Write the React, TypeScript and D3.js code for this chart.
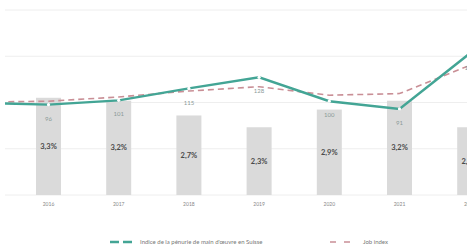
import { useEffect, useRef } from "react";
import * as d3 from "d3";

// years (2015 sits left of the visible area, only the lines reach into view)
const years = ["2015", "2016", "2017", "2018", "2019", "2020", "2021", "2022"];
const unemployment = [3.2, 3.3, 3.2, 2.7, 2.3, 2.9, 3.2, 2.3];
const shortageIndex = [98, 96, 101, 115, 128, 100, 91, 156];
const jobIndex = [99, 100, 105, 112, 117, 107, 109, 142];
const legendLabels = [
  "Indice de la pénurie de main d'œuvre en Suisse",
  "Job index",
];

const W = 467;
const H = 247;
const teal = "#43a595";
const rose = "#c98f96";

export default function App() {
  const ref = useRef(null);

  useEffect(() => {
    const svg = d3.select(ref.current);
    svg.selectAll("*").remove();

    const x = d3.scalePoint().domain(years).range([-56.8, 504.8]).padding(0.5);
    const barW = 25;
    const yPct = d3.scaleLinear().domain([0, 6.28]).range([195, 10]);
    const yIdx = d3.scaleLinear().domain([-10, 207]).range([195, 10]);

    // only years whose centre is on screen get labels
    const shown = years.map((d, i) => i).filter((i) => x(years[i]) > 5);

    svg
      .append("defs")
      .append("clipPath")
      .attr("id", "plot")
      .append("rect")
      .attr("x", 5)
      .attr("y", 0)
      .attr("width", W)
      .attr("height", H);

    const font = "Lato, 'Open Sans', sans-serif";

    // gridlines
    const max = yPct.domain()[1];
    svg
      .append("g")
      .selectAll("line")
      .data(d3.range(5).map((i) => (i * max) / 4))
      .join("line")
      .attr("x1", 5)
      .attr("x2", W)
      .attr("y1", (d) => yPct(d))
      .attr("y2", (d) => yPct(d))
      .attr("stroke", "#eeeeee")
      .attr("stroke-width", 1);

    const plot = svg.append("g").attr("clip-path", "url(#plot)");

    // bars
    plot
      .append("g")
      .selectAll("rect")
      .data(years)
      .join("rect")
      .attr("x", (d) => x(d) - barW / 2)
      .attr("y", (d, i) => yPct(unemployment[i]))
      .attr("width", barW)
      .attr("height", (d, i) => yPct(0) - yPct(unemployment[i]))
      .attr("fill", "#dadada");

    plot
      .append("g")
      .selectAll("text")
      .data(shown)
      .join("text")
      .attr("x", (i) => x(years[i]))
      .attr("y", (i) => (yPct(unemployment[i]) + yPct(0)) / 2)
      .attr("dy", "0.35em")
      .attr("text-anchor", "middle")
      .attr("font-family", font)
      .attr("font-size", 7.5)
      .attr("font-weight", 700)
      .attr("fill", "#4a4a4a")
      .text((i) => unemployment[i].toFixed(1).replace(".", ",") + "%");

    // year labels
    plot
      .append("g")
      .selectAll("text")
      .data(shown)
      .join("text")
      .attr("x", (i) => x(years[i]))
      .attr("y", 206)
      .attr("text-anchor", "middle")
      .attr("font-family", font)
      .attr("font-size", 5)
      .attr("fill", "#888")
      .text((i) => years[i]);

    // job index (dashed)
    const line = (vals) =>
      d3
        .line()
        .x((d, i) => x(years[i]))
        .y((d) => yIdx(d))(vals);

    plot
      .append("path")
      .attr("d", line(jobIndex))
      .attr("fill", "none")
      .attr("stroke", rose)
      .attr("stroke-width", 1.6)
      .attr("stroke-dasharray", "6,4");

    // shortage index
    plot
      .append("path")
      .attr("d", line(shortageIndex))
      .attr("fill", "none")
      .attr("stroke", teal)
      .attr("stroke-width", 2.4);

    plot
      .append("g")
      .selectAll("circle")
      .data(shortageIndex)
      .join("circle")
      .attr("cx", (d, i) => x(years[i]))
      .attr("cy", (d) => yIdx(d))
      .attr("r", 1.6)
      .attr("fill", "#fff");

    plot
      .append("g")
      .selectAll("text")
      .data(shown)
      .join("text")
      .attr("x", (i) => x(years[i]))
      .attr("y", (i) => yIdx(shortageIndex[i]) + 14)
      .attr("dy", "0.35em")
      .attr("text-anchor", "middle")
      .attr("font-family", font)
      .attr("font-size", 6)
      .attr("fill", "#8a9a98")
      .text((i) => shortageIndex[i]);

    // legend
    const leg = svg.append("g").attr("font-family", font).attr("font-size", 6).attr("fill", "#777");
    leg
      .append("line")
      .attr("x1", 110)
      .attr("x2", 132)
      .attr("y1", 242)
      .attr("y2", 242)
      .attr("stroke", teal)
      .attr("stroke-width", 2.4)
      .attr("stroke-dasharray", "9,4");
    leg
      .append("text")
      .attr("x", 140)
      .attr("y", 242)
      .attr("dy", "0.35em")
      .text(legendLabels[0]);
    leg
      .append("line")
      .attr("x1", 330)
      .attr("x2", 350)
      .attr("y1", 242)
      .attr("y2", 242)
      .attr("stroke", rose)
      .attr("stroke-width", 1.6)
      .attr("stroke-dasharray", "6,8");
    leg
      .append("text")
      .attr("x", 363)
      .attr("y", 242)
      .attr("dy", "0.35em")
      .text(legendLabels[1]);
  }, []);

  return (
    <svg
      ref={ref}
      width={W}
      height={H}
      style={{ position: "absolute", left: 0, top: 0, background: "#fff" }}
    />
  );
}
